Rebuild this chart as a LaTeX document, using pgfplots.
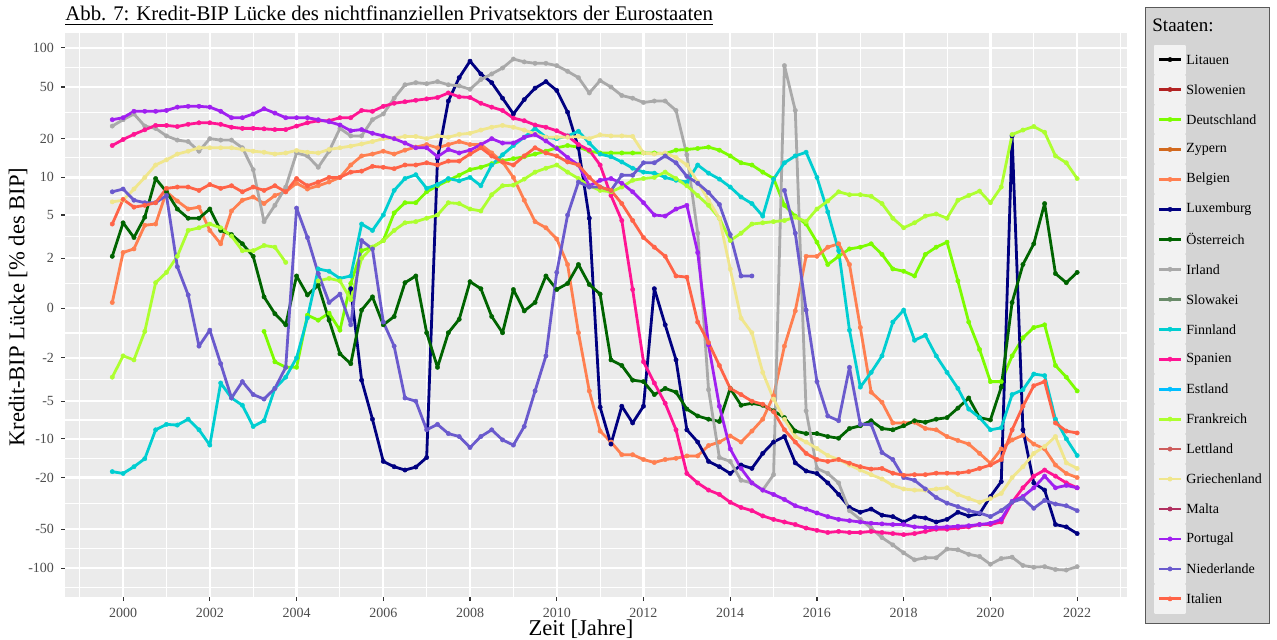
\documentclass[border=0pt]{standalone}
\usepackage{fontspec}
\setmainfont{Liberation Serif}
\usepackage{pgfplots}
\pgfplotsset{compat=1.18}
\definecolor{cLit}{HTML}{000000}
\definecolor{cSlo}{HTML}{B22222}
\definecolor{cDeu}{HTML}{7CFC00}
\definecolor{cZyp}{HTML}{D2691E}
\definecolor{cBel}{HTML}{FF7F50}
\definecolor{cLux}{HTML}{000080}
\definecolor{cOes}{HTML}{006400}
\definecolor{cIrl}{HTML}{A9A9A9}
\definecolor{cSlk}{HTML}{698B69}
\definecolor{cFin}{HTML}{00CED1}
\definecolor{cSpa}{HTML}{FF1493}
\definecolor{cEst}{HTML}{00BFFF}
\definecolor{cFra}{HTML}{ADFF2F}
\definecolor{cLet}{HTML}{CD5C5C}
\definecolor{cGri}{HTML}{F0E68C}
\definecolor{cMal}{HTML}{B03060}
\definecolor{cPor}{HTML}{A020F0}
\definecolor{cNie}{HTML}{6A5ACD}
\definecolor{cIta}{HTML}{FF6347}
\definecolor{panelbg}{HTML}{EBEBEB}
\definecolor{grey30}{HTML}{4D4D4D}
\definecolor{grey20}{HTML}{333333}
\definecolor{legbg}{HTML}{D4D4D4}
\definecolor{keybg}{HTML}{F2F2F2}
\definecolor{legdraw}{HTML}{595959}
\pgfplotsset{ser/.style={color=#1, line width=1.4pt, mark=*, mark size=1.1pt,
  mark options={solid, line width=0.2pt}, line join=round}}
\begin{document}
\begin{tikzpicture}
\useasboundingbox (0,0) rectangle (638.5pt,319.5pt);
\node[anchor=base west, inner sep=0pt, font=\fontsize{10.4}{12}\selectfont] at (32.5pt,309pt)
  {\underline{Abb. 7: Kredit-BIP Lücke des nichtfinanziellen Privatsektors der Eurostaaten}};
\begin{axis}[
  at={(32.5pt,21pt)}, anchor=south west,
  scale only axis, width=531pt, height=282pt,
  xmin=1998.66, xmax=2023.15,
  ymin=-166, ymax=130,
  y coord trafo/.code={\pgfmathparse{ifthenelse((#1)<0,-1,1)*ln(abs(#1)/2+sqrt((abs(#1)/2)*(abs(#1)/2)+1))}},
  axis background/.style={fill=panelbg},
  axis line style={draw=none},
  grid=both,
  major grid style={white, line width=1.1pt},
  minor grid style={white, line width=0.55pt},
  tick align=outside, major tick length=2pt, minor tick length=0pt,
  xtick pos=bottom, ytick pos=left,
  tick style={color=grey20, line width=0.55pt},
  ticklabel style={font=\fontsize{7}{8}\selectfont, text=grey30},
  xtick={2000,2002,2004,2006,2008,2010,2012,2014,2016,2018,2020,2022},
  xticklabels={2000,2002,2004,2006,2008,2010,2012,2014,2016,2018,2020,2022},
  minor xtick={1999,2001,2003,2005,2007,2009,2011,2013,2015,2017,2019,2021,2023},
  ytick={-100,-50,-20,-10,-5,-2,0,2,5,10,20,50,100},
  yticklabels={-100,-50,-20,-10,-5,-2,0,2,5,10,20,50,100},
  minor ytick={-141,-70.7,-31.6,-14.2,-7.1,-3.25,-0.91,0.91,3.25,7.1,14.2,31.6,70.7},
  xlabel={Zeit [Jahre]},
  ylabel={Kredit-BIP Lücke [\% des BIP]},
  label style={font=\fontsize{11.3}{13}\selectfont},
  xlabel style={at={(axis description cs:0.5,0)}, anchor=base, yshift=-19pt, xshift=-7.5pt},
  ylabel style={at={(axis description cs:0,0.5)}, anchor=center, xshift=4pt, yshift=23.5pt},
  legend style={at={(1,1)}, anchor=north west, xshift=9pt, yshift=13pt,
    fill=legbg, draw=legdraw, line width=0.6pt,
    inner xsep=4pt, inner ysep=5pt,
    font=\fontsize{7}{8}\selectfont,
    row sep=0pt,
    nodes={inner sep=0pt, text depth=, anchor=west},
    /tikz/every even column/.append style={column sep=3.5pt}},
  legend cell align=left,
  legend image code/.code={
    \fill[keybg] (0pt,-6.79pt) rectangle (15pt,6.79pt);
    \draw[mark repeat=2,mark phase=2,#1] plot coordinates {(2pt,0pt) (7.5pt,0pt) (13pt,0pt)};
  },
]
\addlegendimage{empty legend}
\addlegendentry{\hspace*{-17pt}\raisebox{0pt}[7pt][6.5pt]{\fontsize{9.5}{11}\selectfont Staaten:}}
\addlegendimage{ser=cLit}\addlegendentry{Litauen}
\addlegendimage{ser=cSlo}\addlegendentry{Slowenien}
% Deutschland
\addplot[ser=cDeu] coordinates {
(2003.25,-0.85)(2003.5,-2.2)(2003.75,-2.5)(2004,-2.5)(2004.25,-0.25)(2004.5,-0.43)(2004.75,-0.18)
(2005,-0.8)(2005.25,0.9)(2005.5,2.4)(2005.75,2.6)(2006,3.0)(2006.25,5.2)(2006.5,6.3)(2006.75,6.3)
(2007,7.7)(2007.25,8.6)(2007.5,9.5)(2007.75,10.4)(2008,11.5)(2008.25,12)(2008.5,12.8)(2008.75,13.5)
(2009,14)(2009.25,14.5)(2009.5,15.2)(2009.75,16)(2010,17)(2010.25,17.7)(2010.5,17.2)(2010.75,16)
(2011,15.5)(2011.25,15.5)(2011.5,15.5)(2011.75,15.5)(2012,15.5)(2012.25,15.5)(2012.5,15.3)(2012.75,16.3)
(2013,16.5)(2013.25,16.8)(2013.5,17.2)(2013.75,16.3)(2014,14.7)(2014.25,13)(2014.5,12.5)(2014.75,11)
(2015,9.8)(2015.25,6)(2015.5,4.9)(2015.75,4.2)(2016,2.9)(2016.25,1.7)(2016.5,2.1)(2016.75,2.5)
(2017,2.6)(2017.25,2.8)(2017.5,2.2)(2017.75,1.5)(2018,1.4)(2018.25,1.2)(2018.5,2.2)(2018.75,2.6)
(2019,2.9)(2019.25,1.0)(2019.5,-0.5)(2019.75,-1.6)(2020,-3.4)(2020.25,-3.4)(2020.5,-1.9)(2020.75,-1.1)
(2021,-0.7)(2021.25,-0.6)(2021.5,-2.4)(2021.75,-3.1)(2022,-4.1)};
\addlegendentry{Deutschland}
\addlegendimage{ser=cZyp}\addlegendentry{Zypern}
% Belgien
\addplot[ser=cBel] coordinates {
(1999.75,0.2)(2000,2.3)(2000.25,2.5)(2000.5,4.1)(2000.75,4.2)(2001,7.7)(2001.25,6.5)(2001.5,5.6)
(2001.75,5.8)(2002,3.7)(2002.25,2.8)(2002.5,5.4)(2002.75,6.6)(2003,7.0)(2003.25,6.2)(2003.5,7.2)
(2003.75,7.7)(2004,9.0)(2004.25,8.1)(2004.5,8.6)(2004.75,9.2)(2005,10)(2005.25,12.5)(2005.5,14.7)
(2005.75,15.2)(2006,16)(2006.25,15.2)(2006.5,16.3)(2006.75,17.2)(2007,18)(2007.25,17)(2007.5,18)
(2007.75,19)(2008,18)(2008.25,18)(2008.5,15.5)(2008.75,13.2)(2009,10)(2009.25,6.6)(2009.5,4.4)
(2009.75,3.9)(2010,3.1)(2010.25,1.7)(2010.5,-0.9)(2010.75,-4.1)(2011,-8.7)(2011.25,-10.6)(2011.5,-13.3)
(2011.75,-13.3)(2012,-14.5)(2012.25,-15.3)(2012.5,-14.5)(2012.75,-14.2)(2013,-13.6)(2013.25,-13.6)(2013.5,-11.3)
(2013.75,-10.6)(2014,-9.5)(2014.25,-10.6)(2014.5,-8.7)(2014.75,-7)(2015,-4.5)(2015.25,-1.45)(2015.5,-0.1)
(2015.75,2.1)(2016,2.1)(2016.25,2.6)(2016.5,2.8)(2016.75,1.7)(2017,-0.7)(2017.25,-4.2)(2017.5,-5.1)
(2017.75,-7.5)(2018,-7.5)(2018.25,-7.4)(2018.5,-8.3)(2018.75,-8.5)(2019,-9.6)(2019.25,-10.3)(2019.5,-11)
(2019.75,-13)(2020,-15.5)(2020.25,-12)(2020.5,-10.2)(2020.75,-9.4)(2021,-11)(2021.25,-12)(2021.5,-16)
(2021.75,-18.6)(2022,-20)};
\addlegendentry{Belgien}
% Luxemburg
\addplot[ser=cLux] coordinates {
(2005.25,0.7)(2005.5,-3.3)(2005.75,-7)(2006,-15)(2006.25,-16.5)(2006.5,-17.5)(2006.75,-16.6)(2007,-14)
(2007.25,14)(2007.5,39)(2007.75,59)(2008,79)(2008.25,63)(2008.5,54)(2008.75,41)(2009,31)
(2009.25,40)(2009.5,49)(2009.75,55)(2010,47)(2010.25,32)(2010.5,17)(2010.75,4.7)(2011,-5.6)
(2011.25,-11)(2011.5,-5.5)(2011.75,-7.5)(2012,-5.5)(2012.25,0.7)(2012.5,-0.6)(2012.75,-2.1)(2013,-8.5)
(2013.25,-10.6)(2013.5,-15)(2013.75,-16.5)(2014,-18.6)(2014.25,-16)(2014.5,-17)(2014.75,-13)(2015,-10.6)
(2015.25,-9.6)(2015.5,-15.4)(2015.75,-17.8)(2016,-18.6)(2016.25,-22)(2016.5,-27)(2016.75,-34)(2017,-37)
(2017.25,-35)(2017.5,-39)(2017.75,-40)(2018,-44)(2018.25,-40)(2018.5,-41)(2018.75,-44)(2019,-42)
(2019.25,-37)(2019.5,-39.5)(2019.75,-38)(2020,-28)(2020.25,-21.5)(2020.5,21)(2020.75,-8.5)(2021,-22)
(2021.25,-25)(2021.5,-46)(2021.75,-48)(2022,-54)};
\addlegendentry{Luxemburg}
% Oesterreich
\addplot[ser=cOes] coordinates {
(1999.75,2.1)(2000,4.3)(2000.25,3.2)(2000.5,4.8)(2000.75,9.8)(2001,7.7)(2001.25,5.6)(2001.5,4.7)
(2001.75,4.7)(2002,5.6)(2002.25,3.7)(2002.5,3.4)(2002.75,2.8)(2003,2.1)(2003.25,0.4)(2003.5,-0.2)
(2003.75,-0.6)(2004,1.2)(2004.25,0.47)(2004.5,0.83)(2004.75,-0.43)(2005,-1.8)(2005.25,-2.3)(2005.5,-0.07)
(2005.75,0.4)(2006,-0.6)(2006.25,-0.3)(2006.5,0.93)(2006.75,1.2)(2007,-0.9)(2007.25,-2.5)(2007.5,-0.9)
(2007.75,-0.4)(2008,0.97)(2008.25,0.7)(2008.5,-0.3)(2008.75,-0.9)(2009,0.67)(2009.25,-0.1)(2009.5,0.2)
(2009.75,1.2)(2010,0.67)(2010.25,0.9)(2010.5,1.7)(2010.75,0.86)(2011,0.5)(2011.25,-2.1)(2011.5,-2.4)
(2011.75,-3.3)(2012,-3.4)(2012.25,-4.4)(2012.5,-3.9)(2012.75,-4.2)(2013,-5.8)(2013.25,-6.6)(2013.5,-7)
(2013.75,-7.3)(2014,-3.9)(2014.25,-5.4)(2014.5,-5.2)(2014.75,-5.4)(2015,-6)(2015.25,-6.8)(2015.5,-8.7)
(2015.75,-9.1)(2016,-9.1)(2016.25,-9.6)(2016.5,-9.9)(2016.75,-8.3)(2017,-7.9)(2017.25,-7.2)(2017.5,-8.3)
(2017.75,-8.5)(2018,-7.9)(2018.25,-7.2)(2018.5,-7.4)(2018.75,-7.0)(2019,-6.8)(2019.25,-5.7)(2019.5,-4.7)
(2019.75,-6.8)(2020,-7.1)(2020.25,-3.8)(2020.5,0.2)(2020.75,1.7)(2021,2.8)(2021.25,6.2)(2021.5,1.3)
(2021.75,0.93)(2022,1.35)};
\addlegendentry{Österreich}
% Irland
\addplot[ser=cIrl] coordinates {
(1999.75,25)(2000,28)(2000.25,31)(2000.5,25)(2000.75,24)(2001,21)(2001.25,19.5)(2001.5,19)
(2001.75,16)(2002,20)(2002.25,19.5)(2002.5,19.5)(2002.75,17)(2003,11.5)(2003.25,4.4)(2003.5,6)
(2003.75,8.4)(2004,15.5)(2004.25,14.7)(2004.5,12)(2004.75,16)(2005,24)(2005.25,21)(2005.5,21)
(2005.75,28)(2006,31)(2006.25,41)(2006.5,52)(2006.75,54)(2007,53)(2007.25,55)(2007.5,52)
(2007.75,51)(2008,48)(2008.25,57)(2008.5,63)(2008.75,70)(2009,82)(2009.25,78)(2009.5,76)
(2009.75,76)(2010,73)(2010.25,66)(2010.5,59)(2010.75,45)(2011,56)(2011.25,50)(2011.5,43)
(2011.75,41)(2012,38)(2012.25,39)(2012.5,39)(2012.75,33)(2013,15)(2013.25,3.5)(2013.5,-4)
(2013.75,-14)(2014,-15)(2014.25,-21)(2014.5,-22)(2014.75,-25)(2015,-19)(2015.25,73)(2015.5,33)
(2015.75,-6)(2016,-17)(2016.25,-18.6)(2016.5,-22)(2016.75,-36)(2017,-42)(2017.25,-49)(2017.5,-58)
(2017.75,-66)(2018,-76)(2018.25,-86)(2018.5,-83)(2018.75,-83)(2019,-71)(2019.25,-72)(2019.5,-78)
(2019.75,-81)(2020,-93)(2020.25,-84)(2020.5,-82)(2020.75,-95)(2021,-98)(2021.25,-97)(2021.5,-102)
(2021.75,-103)(2022,-97)};
\addlegendentry{Irland}
\addlegendimage{ser=cSlk}\addlegendentry{Slowakei}
% Finnland
\addplot[ser=cFin] coordinates {
(1999.75,-18)(2000,-18.6)(2000.25,-16.5)(2000.5,-14.3)(2000.75,-8.5)(2001,-7.7)(2001.25,-7.8)(2001.5,-7)
(2001.75,-8.5)(2002,-11.2)(2002.25,-3.5)(2002.5,-4.7)(2002.75,-5.4)(2003,-8)(2003.25,-7.2)(2003.5,-3.9)
(2003.75,-3.1)(2004,-2)(2004.25,-0.35)(2004.5,1.5)(2004.75,1.4)(2005,1.1)(2005.25,1.2)(2005.5,4.2)
(2005.75,3.7)(2006,5)(2006.25,7.9)(2006.5,9.8)(2006.75,10.5)(2007,8.2)(2007.25,8.8)(2007.5,9.8)
(2007.75,9.4)(2008,10)(2008.25,8.6)(2008.5,12.5)(2008.75,15)(2009,17.7)(2009.25,20.5)(2009.5,24)
(2009.75,20.5)(2010,20)(2010.25,21)(2010.5,22.8)(2010.75,18.5)(2011,15.2)(2011.25,14.5)(2011.5,13.2)
(2011.75,11.8)(2012,11)(2012.25,10.8)(2012.5,10)(2012.75,9.5)(2013,9.2)(2013.25,12.5)(2013.5,10.8)
(2013.75,9.7)(2014,8.4)(2014.25,7)(2014.5,6.2)(2014.75,4.9)(2015,9.7)(2015.25,13)(2015.5,14.7)
(2015.75,15.7)(2016,10)(2016.25,5.3)(2016.5,2.4)(2016.75,-0.8)(2017,-3.8)(2017.25,-2.8)(2017.5,-1.9)
(2017.75,-0.5)(2018,-0.07)(2018.25,-1.2)(2018.5,-1)(2018.75,-1.9)(2019,-2.8)(2019.25,-3.9)(2019.5,-5.8)
(2019.75,-6.8)(2020,-8.5)(2020.25,-8.2)(2020.5,-4.4)(2020.75,-4)(2021,-2.9)(2021.25,-3)(2021.5,-7)
(2021.75,-10)(2022,-13.5)};
\addlegendentry{Finnland}
% Spanien
\addplot[ser=cSpa] coordinates {
(1999.75,17.7)(2000,19.7)(2000.25,21.6)(2000.5,23.4)(2000.75,25.3)(2001,25.3)(2001.25,24.8)(2001.5,25.8)
(2001.75,26.5)(2002,26.5)(2002.25,25.8)(2002.5,24.5)(2002.75,24)(2003,24)(2003.25,23.8)(2003.5,23.5)
(2003.75,23.5)(2004,25)(2004.25,26.5)(2004.5,27.5)(2004.75,27.5)(2005,29)(2005.25,29)(2005.5,33)
(2005.75,32.5)(2006,35.5)(2006.25,37.5)(2006.5,38.5)(2006.75,39.5)(2007,40.5)(2007.25,41.5)(2007.5,45)
(2007.75,42)(2008,41.5)(2008.25,37.5)(2008.5,35)(2008.75,33)(2009,28.8)(2009.25,27.5)(2009.5,25.5)
(2009.75,24.5)(2010,23)(2010.25,21)(2010.5,18)(2010.75,16.3)(2011,12.5)(2011.25,7.2)(2011.5,4.5)
(2011.75,0.67)(2012,-2.2)(2012.25,-3.5)(2012.5,-5.2)(2012.75,-8.5)(2013,-18.6)(2013.25,-22)(2013.5,-25)
(2013.75,-27)(2014,-31)(2014.25,-34)(2014.5,-36)(2014.75,-39.5)(2015,-42)(2015.25,-44)(2015.5,-46)
(2015.75,-49)(2016,-51)(2016.25,-53)(2016.5,-52)(2016.75,-53)(2017,-53)(2017.25,-52)(2017.5,-53)
(2017.75,-54)(2018,-55)(2018.25,-54)(2018.5,-52)(2018.75,-50)(2019,-50)(2019.25,-49)(2019.5,-48)
(2019.75,-46)(2020,-46)(2020.25,-44)(2020.5,-31)(2020.75,-24)(2021,-19.5)(2021.25,-17.5)(2021.5,-19.5)
(2021.75,-22)(2022,-24)};
\addlegendentry{Spanien}
\addlegendimage{ser=cEst}\addlegendentry{Estland}
% Frankreich
\addplot[ser=cFra] coordinates {
(1999.75,-3.1)(2000,-1.9)(2000.25,-2.1)(2000.5,-0.85)(2000.75,0.93)(2001,1.35)(2001.25,2.1)(2001.5,3.7)
(2001.75,3.9)(2002,4.2)(2002.25,3.9)(2002.5,3.3)(2002.75,2.4)(2003,2.4)(2003.25,2.7)(2003.5,2.6)
(2003.75,1.8)};
\addlegendentry{Frankreich}
\addplot[ser=cFra, forget plot] coordinates {
(2004.5,1.0)(2004.75,1.1)(2005,1.0)(2005.25,0.3)(2005.5,2.0)(2005.75,2.6)(2006,3.0)(2006.25,3.7)
(2006.5,4.3)(2006.75,4.4)(2007,4.7)(2007.25,5.0)(2007.5,6.3)(2007.75,6.2)(2008,5.6)(2008.25,5.4)
(2008.5,7.3)(2008.75,8.6)(2009,8.7)(2009.25,9.7)(2009.5,11)(2009.75,11.8)(2010,12.5)(2010.25,11)
(2010.5,9.8)(2010.75,8.6)(2011,7.9)(2011.25,7.7)(2011.5,8.4)(2011.75,9.5)(2012,9.8)(2012.25,10)
(2012.5,11)(2012.75,9.8)(2013,8.6)(2013.25,7.2)(2013.5,6)(2013.75,4.7)(2014,3.0)(2014.25,3.5)
(2014.5,4.2)(2014.75,4.3)(2015,4.4)(2015.25,4.5)(2015.5,4.8)(2015.75,4.4)(2016,5.6)(2016.25,6.5)
(2016.5,7.7)(2016.75,7.3)(2017,7.3)(2017.25,7.1)(2017.5,6.2)(2017.75,4.7)(2018,3.9)(2018.25,4.3)
(2018.5,4.9)(2018.75,5.1)(2019,4.7)(2019.25,6.6)(2019.5,7.2)(2019.75,7.8)(2020,6.3)(2020.25,8.4)
(2020.5,21.5)(2020.75,23.3)(2021,24.8)(2021.25,22.4)(2021.5,14.7)(2021.75,13)(2022,9.8)};
\addlegendimage{ser=cLet}\addlegendentry{Lettland}
% Griechenland
\addplot[ser=cGri] coordinates {
(1999.75,6.4)(2000,6.6)(2000.25,8.1)(2000.5,10)(2000.75,12.5)(2001,13.7)(2001.25,15.2)(2001.5,16)
(2001.75,17)(2002,17)(2002.25,17)(2002.5,17)(2002.75,16.5)(2003,16)(2003.25,15.7)(2003.5,15.2)
(2003.75,15.5)(2004,16.2)(2004.25,15.7)(2004.5,15.5)(2004.75,16.5)(2005,17)(2005.25,17.5)(2005.5,18.2)
(2005.75,19)(2006,20)(2006.25,20.2)(2006.5,20.8)(2006.75,20.8)(2007,20)(2007.25,21)(2007.5,20.5)
(2007.75,21.6)(2008,22)(2008.25,23.3)(2008.5,24.5)(2008.75,25.3)(2009,24.5)(2009.25,23.3)(2009.5,21.8)
(2009.75,20.5)(2010,20.5)(2010.25,20.5)(2010.5,20.8)(2010.75,20)(2011,21.4)(2011.25,21)(2011.5,21)
(2011.75,20.8)(2012,15.5)(2012.25,15.2)(2012.5,15.5)(2012.75,14.3)(2013,12.5)(2013.25,9.2)(2013.5,6.6)
(2013.75,4.7)(2014,1.5)(2014.25,-0.36)(2014.5,-0.9)(2014.75,-2.8)(2015,-4.8)(2015.25,-7)(2015.5,-9.6)
(2015.75,-10.6)(2016,-11.9)(2016.25,-13.5)(2016.5,-14.5)(2016.75,-16)(2017,-17.5)(2017.25,-19)(2017.5,-20.5)
(2017.75,-23)(2018,-24.5)(2018.25,-25)(2018.5,-25)(2018.75,-24.5)(2019,-24)(2019.25,-27)(2019.5,-29)
(2019.75,-31)(2020,-29)(2020.25,-26.5)(2020.5,-20)(2020.75,-16.5)(2021,-13)(2021.25,-11.5)(2021.5,-9.6)
(2021.75,-15.4)(2022,-17)};
\addlegendentry{Griechenland}
\addlegendimage{ser=cMal}\addlegendentry{Malta}
% Portugal
\addplot[ser=cPor] coordinates {
(1999.75,28)(2000,29)(2000.25,32.5)(2000.5,32.5)(2000.75,32.5)(2001,33)(2001.25,35)(2001.5,35.5)
(2001.75,35.5)(2002,35)(2002.25,32.5)(2002.5,29)(2002.75,29)(2003,31)(2003.25,34)(2003.5,31.5)
(2003.75,29)(2004,29)(2004.25,29)(2004.5,28)(2004.75,27)(2005,25.5)(2005.25,23)(2005.5,23.5)
(2005.75,22)(2006,21)(2006.25,20)(2006.5,18.5)(2006.75,17)(2007,17)(2007.25,14.5)(2007.5,16.5)
(2007.75,15.5)(2008,16.3)(2008.25,18)(2008.5,20)(2008.75,18.5)(2009,18.5)(2009.25,20.5)(2009.5,21.5)
(2009.75,19.2)(2010,16.8)(2010.25,14.3)(2010.5,12.5)(2010.75,8.6)(2011,9.5)(2011.25,9.8)(2011.5,9)
(2011.75,7.7)(2012,6.3)(2012.25,5)(2012.5,4.9)(2012.75,5.6)(2013,6)(2013.25,2.3)(2013.5,-1.4)
(2013.75,-5.5)(2014,-12)(2014.25,-17)(2014.5,-22)(2014.75,-25)(2015,-27)(2015.25,-29.5)(2015.5,-33)
(2015.75,-35)(2016,-37.5)(2016.25,-40)(2016.5,-42)(2016.75,-43)(2017,-44)(2017.25,-45)(2017.5,-45.5)
(2017.75,-46)(2018,-46)(2018.25,-48)(2018.5,-48.5)(2018.75,-48.5)(2019,-48)(2019.25,-47.5)(2019.5,-47)
(2019.75,-46)(2020,-45)(2020.25,-42)(2020.5,-30.5)(2020.75,-28)(2021,-24)(2021.25,-19.5)(2021.5,-24)
(2021.75,-23)(2022,-24)};
\addlegendentry{Portugal}
% Niederlande
\addplot[ser=cNie] coordinates {
(1999.75,7.7)(2000,8.1)(2000.25,6.6)(2000.5,6.3)(2000.75,6.3)(2001,7.2)(2001.25,1.6)(2001.5,0.47)
(2001.75,-1.45)(2002,-0.8)(2002.25,-2.3)(2002.5,-4.7)(2002.75,-3.4)(2003,-4.4)(2003.25,-4.8)(2003.5,-3.9)
(2003.75,-2.5)(2004,5.7)(2004.25,3.2)(2004.5,1.3)(2004.75,0.2)(2005,0.5)(2005.25,-0.6)(2005.5,3.0)
(2005.75,2.5)(2006,-0.5)(2006.25,-1.45)(2006.5,-4.7)(2006.75,-5)(2007,-8.5)(2007.25,-7.7)(2007.5,-9.1)
(2007.75,-9.6)(2008,-11.7)(2008.25,-9.6)(2008.5,-8.5)(2008.75,-10.2)(2009,-11.2)(2009.25,-8)(2009.5,-4.1)
(2009.75,-1.9)(2010,1.35)(2010.25,5)(2010.5,9.2)(2010.75,8.4)(2011,8.4)(2011.25,7.9)(2011.5,10.4)
(2011.75,10.4)(2012,13)(2012.25,13)(2012.5,14.7)(2012.75,13)(2013,10.2)(2013.25,9)(2013.5,7.6)
(2013.75,6.1)(2014,3.4)(2014.25,1.2)(2014.5,1.2)};
\addlegendentry{Niederlande}
\addplot[ser=cNie, forget plot] coordinates {
(2015.25,7.9)(2015.5,3.5)(2015.75,-0.07)(2016,-3.4)(2016.25,-6.6)(2016.5,-7.2)(2016.75,-2.5)(2017,-7.7)
(2017.25,-7.7)(2017.5,-12.8)(2017.75,-14.5)(2018,-20)(2018.25,-21)(2018.5,-24.5)(2018.75,-28.5)(2019,-31.5)
(2019.25,-33.5)(2019.5,-36)(2019.75,-37.5)(2020,-40)(2020.25,-36)(2020.5,-31)(2020.75,-29)(2021,-34.5)
(2021.25,-30)(2021.5,-32)(2021.75,-33)(2022,-36)};
% Italien
\addplot[ser=cIta] coordinates {
(1999.75,4.2)(2000,6.7)(2000.25,5.8)(2000.5,6)(2000.75,6.3)(2001,8.2)(2001.25,8.4)(2001.5,8.4)
(2001.75,7.9)(2002,8.8)(2002.25,8.2)(2002.5,8.6)(2002.75,7.7)(2003,8.4)(2003.25,7.9)(2003.5,8.6)
(2003.75,7.7)(2004,9.8)(2004.25,8.6)(2004.5,9.2)(2004.75,10)(2005,10)(2005.25,11)(2005.5,11.2)
(2005.75,12.2)(2006,12)(2006.25,11.7)(2006.5,12.5)(2006.75,12.5)(2007,13)(2007.25,12.5)(2007.5,13.4)
(2007.75,13.4)(2008,15.2)(2008.25,17)(2008.5,14.7)(2008.75,13.2)(2009,12.5)(2009.25,14.7)(2009.5,17)
(2009.75,15.5)(2010,14.7)(2010.25,13.2)(2010.5,12.5)(2010.75,10)(2011,8.4)(2011.25,7.9)(2011.5,6.2)
(2011.75,4.5)(2012,3.2)(2012.25,2.6)(2012.5,2.1)(2012.75,1.2)(2013,1.15)(2013.25,-0.5)(2013.5,-1.3)
(2013.75,-2.4)(2014,-3.9)(2014.25,-4.4)(2014.5,-5)(2014.75,-5.3)(2015,-6.1)(2015.25,-8.5)(2015.5,-10.6)
(2015.75,-13)(2016,-14.5)(2016.25,-15)(2016.5,-14.5)(2016.75,-15.5)(2017,-16.5)(2017.25,-17.2)(2017.5,-17)
(2017.75,-18.5)(2018,-19.2)(2018.25,-19)(2018.5,-19)(2018.75,-18.5)(2019,-18.5)(2019.25,-18.5)(2019.5,-18)
(2019.75,-17)(2020,-16)(2020.25,-14.5)(2020.5,-8.5)(2020.75,-5.5)(2021,-3.7)(2021.25,-3.4)(2021.5,-7.5)
(2021.75,-8.7)(2022,-9)};
\addlegendentry{Italien}
\end{axis}
\end{tikzpicture}
\end{document}
